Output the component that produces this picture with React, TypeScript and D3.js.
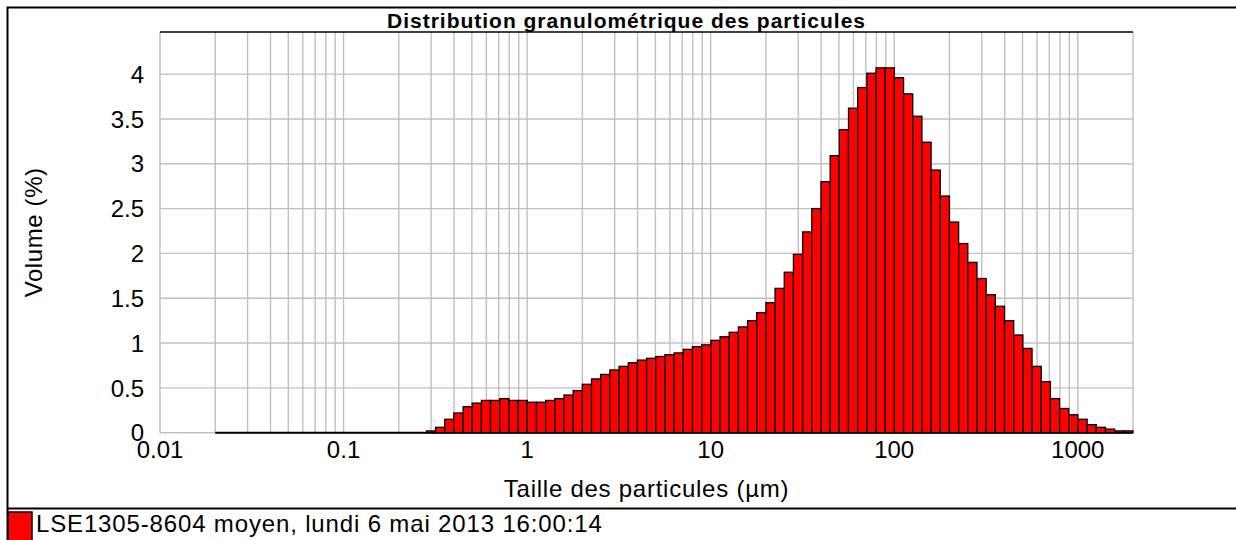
import { useRef, useEffect } from "react";
import * as d3 from "d3";

// size class edges (µm) - 100 classes from 0.02 to 2000
const sizeEdges: number[] = [
  0.02, 0.0224, 0.0252, 0.0283, 0.0317, 0.0356, 0.0399, 0.0448, 0.0502, 0.0564,
  0.0632, 0.071, 0.0796, 0.0893, 0.1002, 0.1125, 0.1262, 0.1416, 0.1589, 0.1783,
  0.2, 0.224, 0.252, 0.283, 0.317, 0.356, 0.399, 0.448, 0.502, 0.564,
  0.632, 0.71, 0.796, 0.893, 1.002, 1.125, 1.262, 1.416, 1.589, 1.783,
  2.0, 2.244, 2.518, 2.825, 3.17, 3.557, 3.991, 4.477, 5.024, 5.637,
  6.325, 7.096, 7.962, 8.934, 10.024, 11.247, 12.619, 14.159, 15.887, 17.825,
  20.0, 22.44, 25.179, 28.251, 31.698, 35.566, 39.905, 44.774, 50.238, 56.368,
  63.246, 70.963, 79.621, 89.337, 100.237, 112.468, 126.191, 141.589, 158.866, 178.25,
  200.0, 224.404, 251.785, 282.508, 316.979, 355.656, 399.052, 447.744, 502.377, 563.677,
  632.456, 709.627, 796.214, 893.367, 1002.374, 1124.683, 1261.915, 1415.892, 1588.656, 1782.502,
  2000.0,
];

// volume (%) in each class
const volumes: number[] = [
  0, 0, 0, 0, 0, 0, 0, 0, 0, 0,
  0, 0, 0, 0, 0, 0, 0, 0, 0, 0,
  0, 0, 0, 0.02, 0.06, 0.15, 0.22, 0.29, 0.33, 0.36,
  0.36, 0.38, 0.36, 0.36, 0.34, 0.34, 0.36, 0.38, 0.42, 0.47,
  0.54, 0.6, 0.65, 0.7, 0.74, 0.78, 0.81, 0.83, 0.85, 0.87,
  0.89, 0.93, 0.96, 0.98, 1.03, 1.07, 1.12, 1.18, 1.25, 1.34,
  1.45, 1.61, 1.79, 1.99, 2.24, 2.5, 2.8, 3.09, 3.38, 3.62,
  3.85, 4.01, 4.07, 4.07, 3.96, 3.78, 3.53, 3.24, 2.93, 2.64,
  2.35, 2.11, 1.9, 1.72, 1.54, 1.41, 1.25, 1.09, 0.94, 0.74,
  0.57, 0.38, 0.27, 0.2, 0.15, 0.09, 0.06, 0.04, 0.02, 0.02,
];

const xTickValues = [0.01, 0.1, 1, 10, 100, 1000];
const xTickLabels = ["0.01", "0.1", "1", "10", "100", "1000"];
const yTickValues = [0, 0.5, 1, 1.5, 2, 2.5, 3, 3.5, 4];

const title = "Distribution granulométrique des particules";
const xLabel = "Taille des particules (µm)";
const yLabel = "Volume (%)";
const legendLabel = "LSE1305-8604 moyen, lundi 6 mai 2013 16:00:14";

const App = () => {
  const svgRef = useRef<SVGSVGElement | null>(null);

  useEffect(() => {
    const width = 1236;
    const height = 540;
    const plot = { left: 160, right: 1133, top: 32, bottom: 432.7 };
    const font = "'Liberation Sans', Arial, sans-serif";

    const svg = d3.select(svgRef.current);
    svg.selectAll("*").remove();

    const x = d3.scaleLog().domain([0.01, 2000]).range([plot.left, plot.right]);
    const y = d3.scaleLinear().domain([0, 4.47]).range([plot.bottom, plot.top]);

    // outer frame
    svg.append("rect")
      .attr("x", 7.5).attr("y", 7.5)
      .attr("width", width).attr("height", height)
      .attr("fill", "#fff")
      .attr("stroke", "#000").attr("stroke-width", 2);

    // title
    svg.append("text")
      .attr("x", 626).attr("y", 28)
      .attr("text-anchor", "middle")
      .attr("font-family", font).attr("font-weight", "bold").attr("font-size", 21)
      .attr("textLength", 478).attr("lengthAdjust", "spacing")
      .text(title);

    // grid
    const grid = svg.append("g").attr("stroke", "#c0c0c0").attr("stroke-width", 1.4);
    grid.selectAll("line.v")
      .data(x.ticks())
      .join("line")
      .attr("class", "v")
      .attr("x1", d => x(d)).attr("x2", d => x(d))
      .attr("y1", plot.top).attr("y2", plot.bottom);
    grid.selectAll("line.h")
      .data(yTickValues)
      .join("line")
      .attr("class", "h")
      .attr("x1", plot.left).attr("x2", plot.right)
      .attr("y1", d => y(d)).attr("y2", d => y(d));

    // top border of plot
    svg.append("line")
      .attr("x1", plot.left).attr("x2", plot.right)
      .attr("y1", plot.top).attr("y2", plot.top)
      .attr("stroke", "#000").attr("stroke-width", 1.6);

    // bars
    const bins = volumes.map((v, i) => ({ lo: sizeEdges[i], hi: sizeEdges[i + 1], v }));
    svg.append("line")
      .attr("x1", x(sizeEdges[0])).attr("x2", x(sizeEdges[sizeEdges.length - 1]))
      .attr("y1", y(0)).attr("y2", y(0))
      .attr("stroke", "#000").attr("stroke-width", 2);
    svg.append("g")
      .selectAll("rect")
      .data(bins.filter(b => b.v > 0))
      .join("rect")
      .attr("x", d => x(d.lo))
      .attr("width", d => x(d.hi) - x(d.lo))
      .attr("y", d => y(d.v))
      .attr("height", d => y(0) - y(d.v))
      .attr("fill", "#ff0000")
      .attr("stroke", "#000").attr("stroke-width", 1.3);

    // y tick labels
    svg.append("g")
      .selectAll("text")
      .data(yTickValues)
      .join("text")
      .attr("x", 144).attr("y", d => y(d))
      .attr("dy", "0.36em")
      .attr("text-anchor", "end")
      .attr("font-family", font).attr("font-size", 24)
      .text(d => d3.format("")(d));

    // x tick labels
    svg.append("g")
      .selectAll("text")
      .data(xTickValues)
      .join("text")
      .attr("x", d => x(d)).attr("y", 458)
      .attr("text-anchor", "middle")
      .attr("font-family", font).attr("font-size", 24)
      .text((_, i) => xTickLabels[i]);

    // axis titles
    svg.append("text")
      .attr("x", (plot.left + plot.right) / 2).attr("y", 497)
      .attr("text-anchor", "middle")
      .attr("font-family", font).attr("font-size", 24).attr("letter-spacing", 0.75)
      .text(xLabel);
    svg.append("text")
      .attr("transform", `translate(41.5,${(plot.top + plot.bottom) / 2}) rotate(-90)`)
      .attr("text-anchor", "middle")
      .attr("font-family", font).attr("font-size", 24).attr("letter-spacing", 0.6)
      .text(yLabel);

    // legend
    svg.append("line")
      .attr("x1", 7).attr("x2", width)
      .attr("y1", 508.5).attr("y2", 508.5)
      .attr("stroke", "#000").attr("stroke-width", 2);
    svg.append("rect")
      .attr("x", 8).attr("y", 512)
      .attr("width", 24).attr("height", 40)
      .attr("fill", "#ff0000")
      .attr("stroke", "#000").attr("stroke-width", 1.5);
    svg.append("text")
      .attr("x", 36).attr("y", 532)
      .attr("font-family", font).attr("font-size", 24).attr("letter-spacing", 0.85)
      .text(legendLabel);
  }, []);

  return (
    <svg
      ref={svgRef}
      width={1236}
      height={540}
      style={{ position: "absolute", left: 0, top: 0, background: "#fff" }}
    />
  );
};

export default App;
